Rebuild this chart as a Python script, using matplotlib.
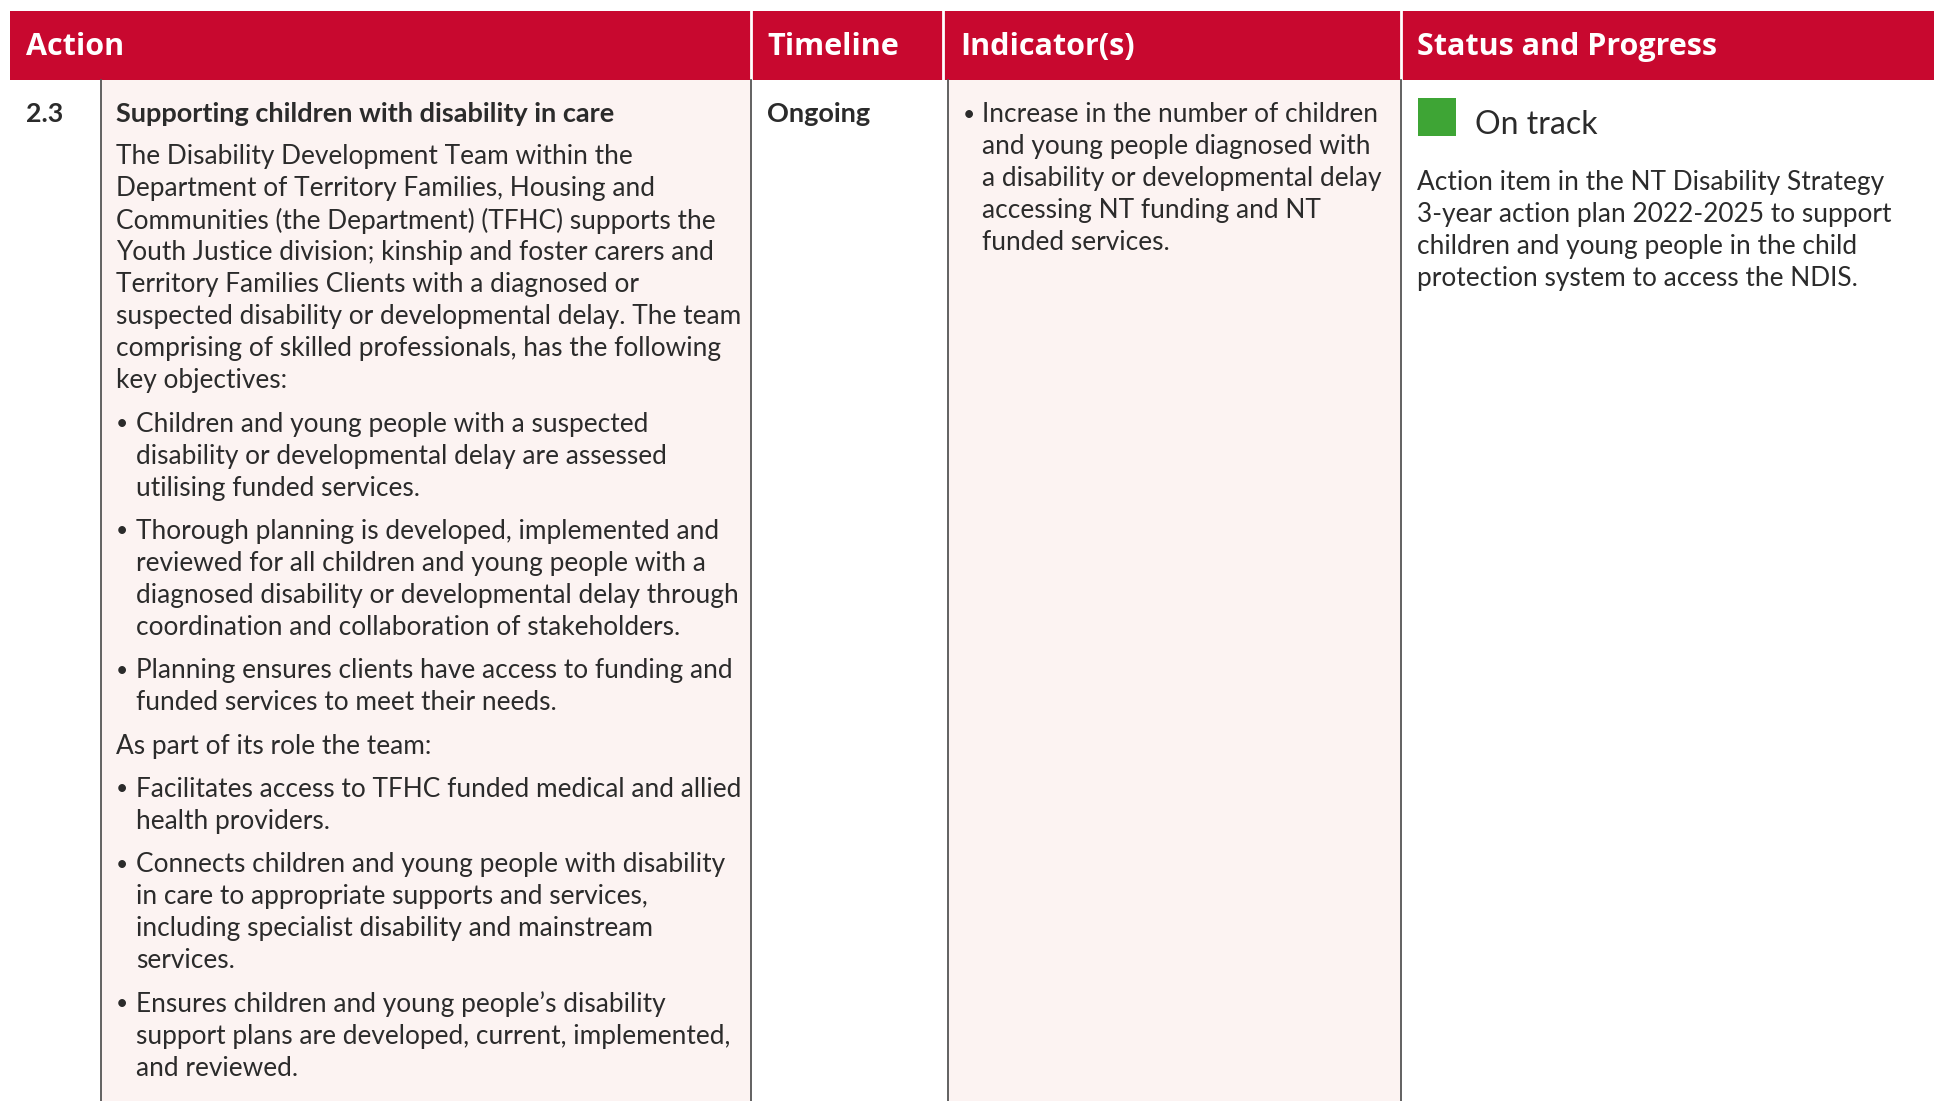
import matplotlib.pyplot as plt
from matplotlib.patches import Rectangle

# table content
headers = ["Action", "Timeline", "Indicator(s)", "Status and Progress"]
action_no = "2.3"
action_title = "Supporting children with disability in care"
action_intro = [
    "The Disability Development Team within the",
    "Department of Territory Families, Housing and",
    "Communities (the Department) (TFHC) supports the",
    "Youth Justice division; kinship and foster carers and",
    "Territory Families Clients with a diagnosed or",
    "suspected disability or developmental delay. The team",
    "comprising of skilled professionals, has the following",
    "key objectives:",
]
objectives = [
    ["Children and young people with a suspected",
     "disability or developmental delay are assessed",
     "utilising funded services."],
    ["Thorough planning is developed, implemented and",
     "reviewed for all children and young people with a",
     "diagnosed disability or developmental delay through",
     "coordination and collaboration of stakeholders."],
    ["Planning ensures clients have access to funding and",
     "funded services to meet their needs."],
]
role_intro = ["As part of its role the team:"]
roles = [
    ["Facilitates access to TFHC funded medical and allied",
     "health providers."],
    ["Connects children and young people with disability",
     "in care to appropriate supports and services,",
     "including specialist disability and mainstream",
     "services."],
    ["Ensures children and young people\u2019s disability",
     "support plans are developed, current, implemented,",
     "and reviewed."],
]
timeline = "Ongoing"
indicators = [
    ["Increase in the number of children",
     "and young people diagnosed with",
     "a disability or developmental delay",
     "accessing NT funding and NT",
     "funded services."],
]
status = "On track"
status_text = [
    "Action item in the NT Disability Strategy",
    "3-year action plan 2022-2025 to support",
    "children and young people in the child",
    "protection system to access the NDIS.",
]

W, H = 1934, 1101
RED = "#C8082F"
PINK = "#FCF3F2"
TXT = "#2B2B2B"
LINE = "#555555"
FONT = ["Lato", "DejaVu Sans"]
BODY = 18.9
STEP = 32.07
GAP = 43.2

fig = plt.figure(figsize=(W / 100, H / 100), dpi=100)
ax = fig.add_axes([0, 0, 1, 1])
ax.set_xlim(0, W)
ax.set_ylim(H, 0)
ax.axis("off")

top, hbot = 11, 80
x_left, x_no, x_act, x_tl, x_ind = 10, 101, 751, 948, 1401

# body backgrounds
ax.add_patch(Rectangle((x_no, hbot), x_act - x_no, H - hbot, color=PINK, lw=0))
ax.add_patch(Rectangle((x_tl, hbot), x_ind - x_tl, H - hbot, color=PINK, lw=0))
# header band
ax.add_patch(Rectangle((x_left, top), W - x_left, hbot - top, color=RED, lw=0))
for xh in [x_act, 943, x_ind]:
    ax.plot([xh, xh], [top, hbot], color="white", lw=2)
for xv in [x_no, x_act, x_tl, x_ind]:
    ax.plot([xv, xv], [hbot, H], color=LINE, lw=1.3)

hy = 47
for label, hx in zip(headers, [26, 767, 960, 1417]):
    ax.text(hx, hy, label, color="white", fontsize=22, fontweight="bold",
            family=["Open Sans", "DejaVu Sans"], va="center", ha="left")


def put(x, y, s, bold=False, size=BODY):
    ax.text(x, y, s, color=TXT, fontsize=size, family=FONT,
            fontweight="bold" if bold else "normal", va="center", ha="left")


def lines(x, y, rows):
    for i, s in enumerate(rows):
        put(x, y + i * STEP, s)
    return y + (len(rows) - 1) * STEP


def bullets(xb, xt, y, items):
    for k, item in enumerate(items):
        if k:
            y += GAP
        put(xb, y, "\u2022", size=BODY * 0.8)
        y = lines(xt, y, item)
    return y


y0 = 114.5
put(26, y0, action_no, bold=True, size=19.3)
put(116, y0, action_title, bold=True, size=19.5)
y = lines(116, y0 + 41.9, action_intro)
y = bullets(116, 136, y + GAP, objectives)
y = lines(116, y + GAP, role_intro)
bullets(116, 136, y + GAP, roles)

put(767, y0, timeline, bold=True, size=19.5)
bullets(963, 982, y0, indicators)

ax.add_patch(Rectangle((1418, 98), 38, 38, color="#3EA535", lw=0))
put(1475, 125.5, status, size=23)
lines(1417, 182.3, status_text)

fig.savefig("out.png", dpi=100)
